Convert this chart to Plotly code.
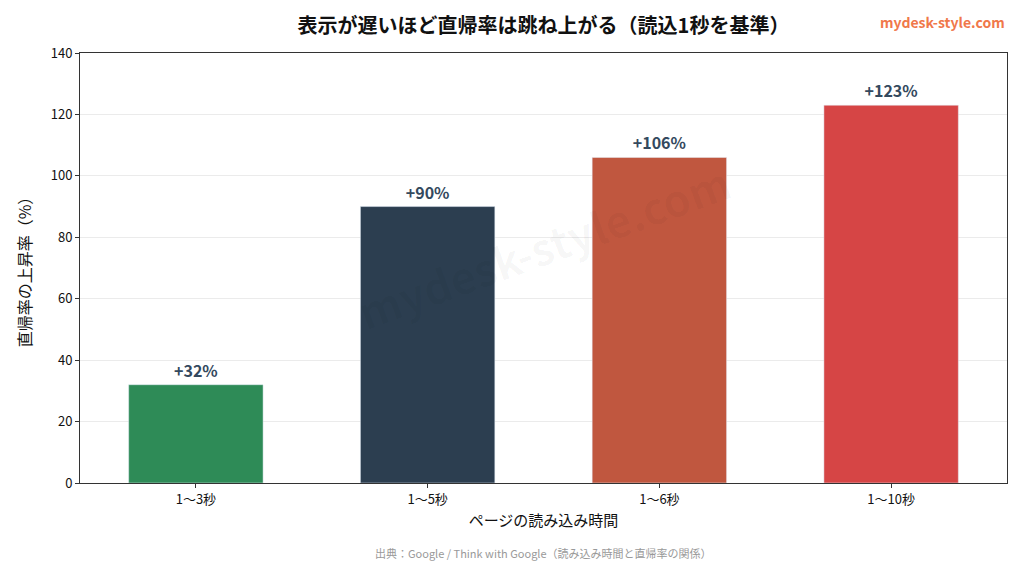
import plotly.graph_objects as go

categories = ["1〜3秒", "1〜5秒", "1〜6秒", "1〜10秒"]
values = [32, 90, 106, 123]
labels = ["<b>+32%</b>", "<b>+90%</b>", "<b>+106%</b>", "<b>+123%</b>"]
colors = ["#2e8b57", "#2c3e50", "#c0573f", "#d64545"]
F = "Noto Sans CJK JP"

fig = go.Figure(go.Bar(x=categories, y=values, marker_color=colors, width=0.58,
                       text=labels, textposition="outside",
                       textfont=dict(family=F, size=16, color="#34495e"), cliponaxis=False))
fig.update_layout(
    width=1008, height=553, paper_bgcolor="white", plot_bgcolor="white",
    margin=dict(l=72, r=9, t=45, b=78), font=dict(family=F, color="#111"),
    showlegend=False,
    title=dict(text="<b>表示が遅いほど直帰率は跳ね上がる（読込1秒を基準）</b>", x=0.5, xref="paper", xanchor="center",
               y=0.968, yanchor="middle", font=dict(size=20, color="#111")),
    xaxis=dict(title=dict(text="ページの読み込み時間", font=dict(size=15), standoff=8),
               tickfont=dict(size=13), showline=True, linecolor="#333", mirror=True, ticks="outside",
               ticklen=4, tickcolor="#333"),
    yaxis=dict(title=dict(text="直帰率の上昇率（%）", font=dict(size=16)), range=[0, 140], dtick=20,
               tickfont=dict(size=13), showline=True, linecolor="#333", mirror=True, ticks="outside",
               ticklen=4, tickcolor="#333", gridcolor="#ebebeb", zeroline=False),
    annotations=[
        dict(text="<b>mydesk-style.com</b>", xref="paper", yref="paper", x=1.0, y=1.072, xanchor="right",
             yanchor="middle", showarrow=False, font=dict(size=14, color="#f0784a")),
        dict(text="出典：Google / Think with Google（読み込み時間と直帰率の関係）", xref="paper", yref="paper",
             x=0.5, y=-0.163, yanchor="middle", showarrow=False, font=dict(size=11, color="#999")),
        dict(text="<b>mydesk-style.com</b>", xref="paper", yref="paper", x=0.5, y=0.55, showarrow=False,
             textangle=-20, font=dict(size=44, color="rgba(0,0,0,0.03)")),
    ],
)
fig.write_html("out.html")
